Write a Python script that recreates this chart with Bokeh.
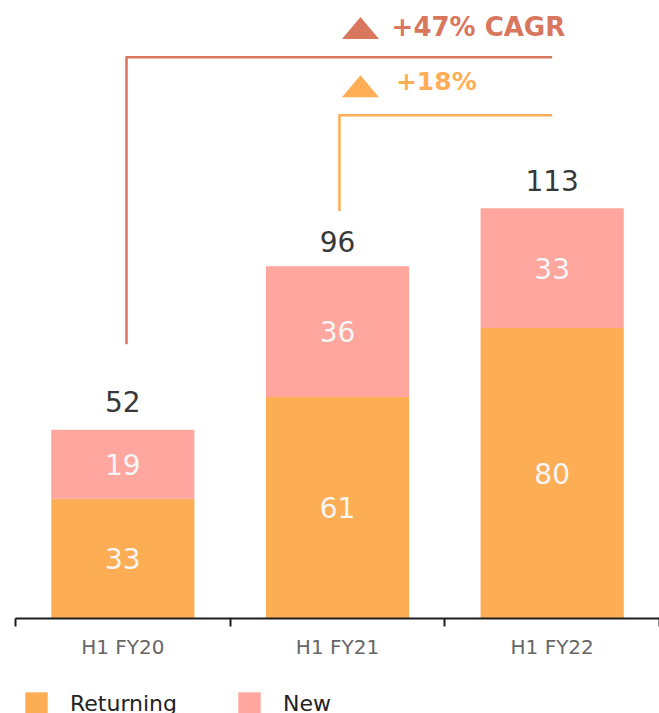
from bokeh.plotting import figure
from bokeh.layouts import column
from bokeh.models import (Range1d, LinearAxis, FixedTicker,
                          ColumnDataSource, Legend, LegendItem)
from bokeh.embed import file_html
from bokeh.resources import INLINE
from bokeh.core.properties import value

# ---------------- data ----------------
periods = ["H1 FY20", "H1 FY21", "H1 FY22"]
returning = [33, 61, 80]
new = [19, 36, 33]
totals = [52, 96, 113]
series_names = ["Returning", "New"]
cagr_label = "+47% CAGR"
yoy_label = "+18%"

xpos = [i + 0.5 for i in range(len(periods))]          # category centres
bounds = [i for i in range(len(periods) + 1)]          # category boundaries

# ---------------- style ----------------
FONT = "DejaVu Sans"
C_RET = "#FDAE55"
C_NEW = "#FFA69E"
C_CAGR = "#D9775E"
C_YOY = "#FFAE55"
C_TOTAL = "#383838"
C_AXIS = "#1e1e1e"
SERIES_COLORS = [C_RET, C_NEW]

Y_MAX = 168
FRAME_W = 644
FRAME_H = 610
PX_X = FRAME_W / len(periods)   # px per category unit
PX_Y = FRAME_H / Y_MAX          # px per value unit

p = figure(frame_width=FRAME_W, frame_height=FRAME_H,
           x_range=Range1d(0, len(periods)),
           y_range=Range1d(0, Y_MAX),
           output_backend="svg", toolbar_location=None,
           x_axis_location=None, y_axis_location=None,
           min_border_left=15, min_border_right=0, min_border_top=8, min_border_bottom=0,
           outline_line_color=None, background_fill_color="white", border_fill_color="white")
p.xgrid.visible = False
p.ygrid.visible = False

src = ColumnDataSource(dict(
    x=xpos,
    Returning=returning,
    New=new,
    total=totals,
    total_txt=[str(t) for t in totals],
    ret_mid=[r / 2 for r in returning],
    new_mid=[r + n / 2 for r, n in zip(returning, new)],
    ret_txt=[str(r) for r in returning],
    new_txt=[str(n) for n in new],
))

bars = p.vbar_stack(series_names, x="x", width=0.667, color=SERIES_COLORS,
                    line_color=None, source=src)

# labels inside segments
for ycol, tcol in (("ret_mid", "ret_txt"), ("new_mid", "new_txt")):
    p.text(x="x", y=ycol, text=tcol, source=src, text_align="center",
           text_baseline="alphabetic", y_offset=0,
           text_font=value(FONT), text_font_size="28px", text_color="#F6F6F6")

# totals above bars
p.text(x="x", y="total", text="total_txt", source=src, text_align="center",
       text_baseline="alphabetic", y_offset=-28,
       text_font=value(FONT), text_font_size="28px", text_color=C_TOTAL)

# ---------------- growth brackets ----------------
cagr_x = [0.517, 0.517, 2.5]
cagr_y = [75.5, 154.6, 154.6]
yoy_x = [1.509, 1.509, 2.5]
yoy_y = [112.2, 138.6, 138.6]
p.line(cagr_x, cagr_y, line_color=C_CAGR, line_width=2.5, line_join="round")
p.line(yoy_x, yoy_y, line_color=C_YOY, line_width=2.5, line_join="round")

TRI_W, TRI_H = 37, 22   # px
def tri(cx, cy):
    hw = TRI_W / 2 / PX_X
    hh = TRI_H / 2 / PX_Y
    return [cx - hw, cx + hw, cx], [cy - hh, cy - hh, cy + hh]

tx, ty = tri(1.607, 162.6)
p.patch(tx, ty, fill_color=C_CAGR, line_color=None)
tx, ty = tri(1.607, 146.6)
p.patch(tx, ty, fill_color=C_YOY, line_color=None)

p.text(x=[1.752], y=[163.0], text=[cagr_label],
       text_align="left", text_baseline="alphabetic",
       text_font=value(FONT), text_font_size="26px", text_font_style="bold", text_color=C_CAGR)
p.text(x=[1.772], y=[147.9], text=[yoy_label],
       text_align="left", text_baseline="alphabetic",
       text_font=value(FONT), text_font_size="25px", text_font_style="bold", text_color=C_YOY)

# ---------------- axes ----------------
tick_axis = LinearAxis(ticker=FixedTicker(ticks=bounds, minor_ticks=[]),
                       major_label_overrides={b: "" for b in bounds},
                       axis_line_color=C_AXIS, axis_line_width=2,
                       major_tick_line_color=C_AXIS, major_tick_line_width=2,
                       major_tick_in=0, major_tick_out=8,
                       minor_tick_line_color=None,
                       major_label_standoff=0)
p.add_layout(tick_axis, "below")

label_axis = LinearAxis(ticker=FixedTicker(ticks=xpos, minor_ticks=[]),
                        major_label_overrides={x: lab for x, lab in zip(xpos, periods)},
                        axis_line_color=None, major_tick_line_color=None,
                        minor_tick_line_color=None,
                        major_tick_in=0, major_tick_out=0,
                        major_label_standoff=8,
                        major_label_text_font=FONT, major_label_text_font_size="20px",
                        major_label_text_color="#666666")
p.add_layout(label_axis, "below")

# ---------------- legend (own strip under the chart) ----------------
lf = figure(width=659, height=56, x_range=Range1d(0, 1), y_range=Range1d(0, 1),
            output_backend="svg", toolbar_location=None,
            x_axis_location=None, y_axis_location=None,
            min_border_left=0, min_border_right=0, min_border_top=0, min_border_bottom=0,
            outline_line_color=None, border_fill_color="white")
lf.xgrid.visible = False
lf.ygrid.visible = False
# zero-height proxy bars outside the visible range, only to carry the legend swatches
proxies = [lf.vbar(x=[-1], top=[0], width=0.1, fill_color=c, line_color=None)
           for c in SERIES_COLORS]
legend = Legend(items=[LegendItem(label=n, renderers=[r]) for n, r in zip(series_names, proxies)],
                orientation="horizontal", location=(7, 0),
                glyph_width=28, glyph_height=28, label_standoff=20, spacing=0,
                label_width=165,
                label_text_font=FONT, label_text_font_size="22px", label_text_color="#222222",
                border_line_color=None, background_fill_alpha=0, padding=0, margin=0)
lf.add_layout(legend)

open("out.html", "w").write(file_html(column(p, lf, spacing=0), INLINE))
